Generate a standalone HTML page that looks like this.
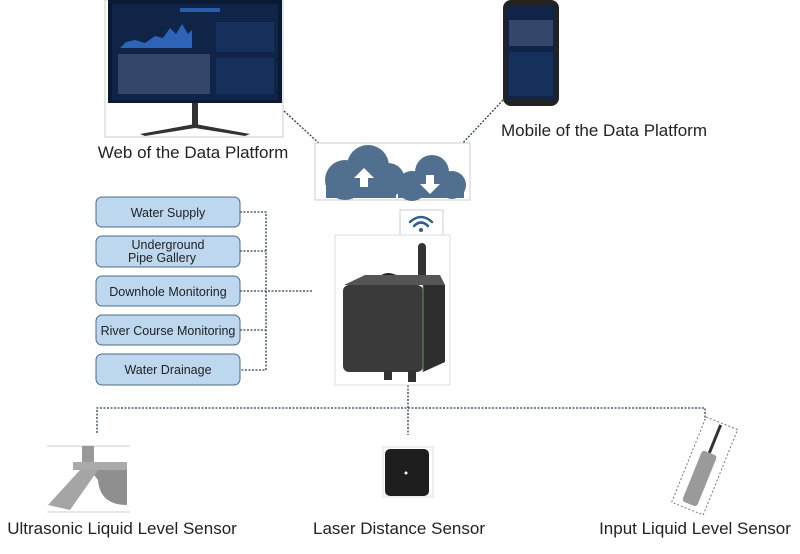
<!DOCTYPE html>
<html><head><meta charset="utf-8"><style>
html,body{margin:0;padding:0;background:#fff;}
svg{display:block;font-family:"Liberation Sans","DejaVu Sans",sans-serif;}
</style></head><body>
<svg width="800" height="554" viewBox="0 0 800 554" xmlns="http://www.w3.org/2000/svg">
<!-- Monitor -->
<rect x="105" y="0" width="178" height="137" fill="#fff" stroke="#ccc"/>
<rect x="108" y="0" width="174" height="103" fill="#0b1a33"/>
<rect x="112" y="4" width="166" height="96" fill="#0f2447"/>
<path d="M120 48 L126 42 L135 40 L145 43 L155 36 L163 38 L170 28 L176 34 L182 24 L188 34 L192 30 L192 48Z" fill="#2d64b8"/>
<rect x="118" y="54" width="92" height="40" fill="#34476b"/>
<rect x="216" y="22" width="58" height="30" fill="#15305a"/>
<rect x="216" y="58" width="58" height="36" fill="#15305a"/>
<rect x="180" y="8" width="40" height="4" fill="#2a5ca8"/>
<rect x="192" y="103" width="6" height="22" fill="#333"/>
<path d="M140 134 L195 124 L250 134 L245 136 L195 128 L145 136Z" fill="#333"/>
<text x="193" y="158" font-size="17" text-anchor="middle" fill="#222">Web of the Data Platform</text>
<!-- Phone -->
<rect x="503" y="0" width="56" height="106" rx="8" fill="#222"/>
<rect x="507" y="6" width="48" height="94" fill="#0f2447"/>
<rect x="509" y="20" width="44" height="26" fill="#34476b"/>
<rect x="509" y="52" width="44" height="44" fill="#15305a"/>
<text x="604" y="136" font-size="17" text-anchor="middle" fill="#222">Mobile of the Data Platform</text>
<!-- dotted connections -->
<g stroke="#2b3d55" stroke-width="1.3" stroke-dasharray="2,1.5" fill="none">
<line x1="284" y1="111" x2="322" y2="146"/>
<line x1="503" y1="100" x2="460" y2="146"/>
<path d="M240 212 H266 V370 H240 M240 251 H266 M240 291 H313 M240 330 H266"/>
<line x1="408" y1="385" x2="408" y2="435"/>
<path d="M97 433 V408 H705 V430"/>
</g>
<!-- Cloud box -->
<rect x="315" y="143" width="155" height="57" fill="#fff" stroke="#ccc"/>
<g fill="#51708f">
<circle cx="345" cy="180" r="20"/><circle cx="368" cy="166" r="21"/><circle cx="388" cy="180" r="17"/>
<rect x="326" y="178" width="70" height="20"/>
<circle cx="412" cy="186" r="15"/><circle cx="432" cy="172" r="17"/><circle cx="452" cy="185" r="14"/>
<rect x="398" y="184" width="66" height="14"/>
</g>
<path d="M364 168 L354 178 L360 178 L360 187 L368 187 L368 178 L374 178Z" fill="#fff"/>
<path d="M430 194 L420 184 L426 184 L426 175 L434 175 L434 184 L440 184Z" fill="#fff"/>
<!-- boxes -->
<g fill="#bdd7ee" stroke="#4a6b8a" stroke-width="1">
<rect x="96" y="197" width="144" height="30" rx="6"/>
<rect x="96" y="236" width="144" height="31" rx="6"/>
<rect x="96" y="276" width="144" height="30" rx="6"/>
<rect x="96" y="315" width="144" height="30" rx="6"/>
<rect x="96" y="354" width="144" height="31" rx="6"/>
</g>
<g font-size="12.5" fill="#222" text-anchor="middle">
<text x="168" y="217">Water Supply</text>
<text x="168" y="249">Underground</text>
<text x="162" y="262">Pipe Gallery</text>
<text x="168" y="296">Downhole Monitoring</text>
<text x="168" y="335">River Course Monitoring</text>
<text x="168" y="374">Water Drainage</text>
</g>
<!-- device -->
<rect x="400" y="210" width="43" height="25" fill="#fff" stroke="#ccc"/>
<g fill="none" stroke="#2e5f8f" stroke-width="2.5" stroke-linecap="round">
<path d="M410 222 Q421 212 432 222"/><path d="M414 226 Q421 219 428 226"/>
</g>
<circle cx="421" cy="230" r="2" fill="#2e5f8f"/>
<rect x="335" y="235" width="115" height="150" fill="#fff" stroke="#ddd"/>
<rect x="418" y="243" width="8" height="42" rx="4" fill="#333"/>
<path d="M375 285 Q385 268 400 280" stroke="#222" stroke-width="4" fill="none"/>
<path d="M344 285 L365 275 L440 275 L445 285 Z" fill="#555"/>
<rect x="343" y="285" width="80" height="87" rx="6" fill="#3a3a3a"/>
<path d="M423 285 L445 285 L445 362 L423 372Z" fill="#2e2e2e"/>
<line x1="423" y1="285" x2="423" y2="372" stroke="#5a9a5a" stroke-width="1"/>
<rect x="384" y="370" width="8" height="10" fill="#333"/>
<rect x="408" y="370" width="8" height="12" fill="#333"/>
<!-- sensors -->
<line x1="47" y1="446" x2="130" y2="446" stroke="#ccc"/>
<line x1="47" y1="512" x2="130" y2="512" stroke="#ccc"/>
<rect x="82" y="446" width="12" height="18" fill="#999"/>
<rect x="73" y="462" width="54" height="8" fill="#aaa"/>
<path d="M90 470 L127 470 L127 505 Q100 505 98 480 Z" fill="#8f8f8f"/>
<path d="M80 470 L98 470 L70 510 L48 505 Z" fill="#a5a5a5"/>
<rect x="383" y="447" width="50" height="50" fill="#fff" stroke="#ddd"/>
<rect x="385" y="449" width="44" height="47" rx="5" fill="#1e1e1e"/>
<circle cx="406" cy="473" r="1.5" fill="#fff"/>
<g transform="rotate(22 705 465)">
<rect x="688" y="420" width="34" height="92" fill="#fff" stroke="#777" stroke-dasharray="2,2"/>
<rect x="703" y="422" width="3" height="30" fill="#333"/>
<rect x="697" y="452" width="16" height="55" rx="3" fill="#9a9a9a"/>
</g>
<g font-size="17" fill="#222" text-anchor="middle">
<text x="122" y="534">Ultrasonic Liquid Level Sensor</text>
<text x="399" y="534">Laser Distance Sensor</text>
<text x="695" y="534">Input Liquid Level Sensor</text>
</g>
</svg>
</body></html>
